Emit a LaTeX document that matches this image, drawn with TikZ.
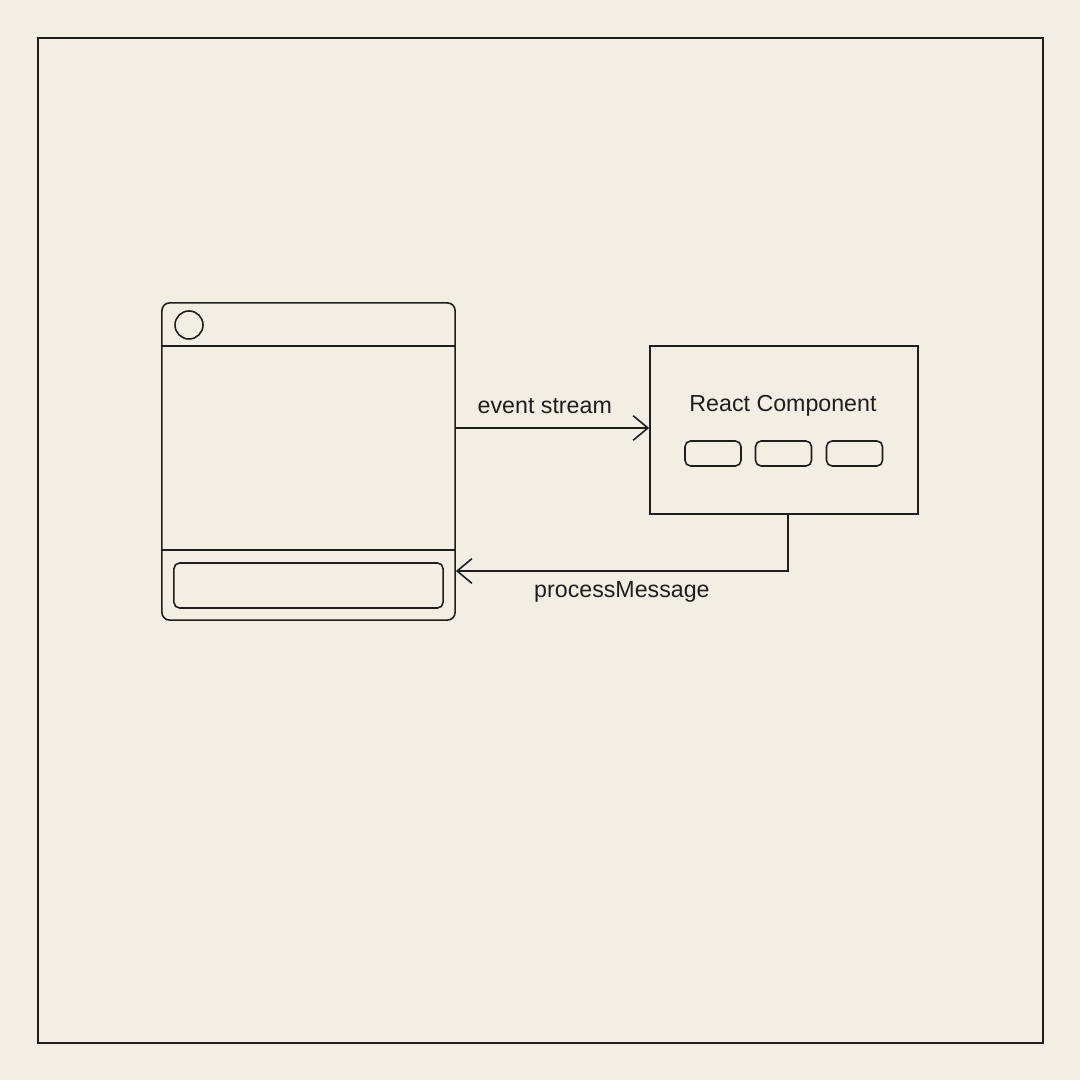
\documentclass[tikz,border=0pt]{standalone}
\usepackage{fontspec}
\setmainfont{Liberation Sans}
\usetikzlibrary{arrows.meta}
\definecolor{paper}{HTML}{F2EEE3}
\definecolor{ink}{HTML}{1E1E1E}

\begin{document}
\begin{tikzpicture}[x=0.01cm,y=-0.01cm,line width=0.45pt,draw=ink,
    btn/.style={draw,rounded corners=1.6pt,inner sep=0pt,minimum width=0.56cm,minimum height=0.25cm},
    arr/.style={-{Straight Barb[length=4.2pt,width=7pt]}},
    lbl/.style={font=\fontsize{6.6}{8}\selectfont,text=ink}]
    % Fondo y marco
    \fill[paper] (0,0) rectangle (1080,1080);
    \draw (38,38) rectangle (1043,1043);

    % Ventana del chat
    \node[draw,rounded corners=2.2pt,minimum width=2.93cm,minimum height=3.17cm,inner sep=0pt] (win) at (308.5,461.5) {};
    \draw (162,346) -- (455,346);
    \draw (162,550) -- (455,550);
    \node[draw,circle,minimum size=0.28cm,inner sep=0pt] (dot) at (189,325) {};
    \node[btn,minimum width=2.69cm,minimum height=0.45cm] (input) at (308.5,585.5) {};

    % Componente
    \node[draw,minimum width=2.68cm,minimum height=1.68cm,inner sep=0pt] (react) at (784,430) {};
    \node[lbl] (title) at (783,406) {React Component};
    \foreach \x/\n in {713/a,783.5/b,854.5/c}
      \node[btn] (btn\n) at (\x,453.5) {};

    % Flechas
    \draw[arr] (win.east |- 0,428) -- ([yshift=0.02cm]react.west) node[lbl,pos=0.46,above=0.5pt] {event stream};
    \draw[arr] ([xshift=0.04cm]react.south) |- (win.east |- 0,571) node[lbl,pos=0.75,below=-0.5pt] {processMessage};
\end{tikzpicture}
\end{document}
